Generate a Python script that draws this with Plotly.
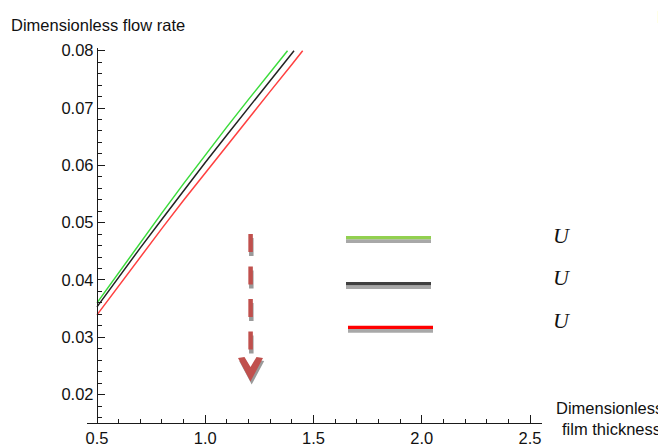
import plotly.graph_objects as go

# ---- data ----
x_green = [0.5, 0.6, 0.7, 0.8, 0.9, 1.0, 1.1, 1.2, 1.3, 1.38]
y_green = [0.0360, 0.0413, 0.0466, 0.0517, 0.0568, 0.0618, 0.0667, 0.0715, 0.0763, 0.0800]
x_black = [0.5, 0.6, 0.7, 0.8, 0.9, 1.0, 1.1, 1.2, 1.3, 1.41]
y_black = [0.0353, 0.0405, 0.0456, 0.0506, 0.0556, 0.0605, 0.0653, 0.0700, 0.0747, 0.0800]
x_red = [0.5, 0.6, 0.7, 0.8, 0.9, 1.0, 1.1, 1.2, 1.3, 1.4, 1.45]
y_red = [0.0339, 0.0390, 0.0440, 0.0490, 0.0539, 0.0587, 0.0635, 0.0682, 0.0729, 0.0776, 0.0800]

x_ticks = [0.5, 1.0, 1.5, 2.0, 2.5]
y_ticks = [0.02, 0.03, 0.04, 0.05, 0.06, 0.07, 0.08]
x_tick_labels = ["0.5", "1.0", "1.5", "2.0", "2.5"]
y_tick_labels = ["0.02", "0.03", "0.04", "0.05", "0.06", "0.07", "0.08"]

y_title = "Dimensionless flow rate"
x_title_1 = "Dimensionless"
x_title_2 = "film thickness"
legend_labels = ["U", "U", "U"]

# ---- layout geometry ----
W, H = 658, 446
L, R, T, B = 87, 116, 48, 23
PW, PH = W - L - R, H - T - B
XMIN, XMAX = 0.4538, 2.5554
YMIN, YMAX = 0.01504, 0.08047

def px(x):
    return (x - L) / PW

def py(y):
    return (H - B - y) / PH

SANS = "Liberation Sans, Arial, sans-serif"
FS = 16.5
TXT = "#111111"

fig = go.Figure()
fig.add_trace(go.Scatter(x=x_green, y=y_green, mode="lines",
                         line=dict(color="#3cdc3c", width=1.5), showlegend=False))
fig.add_trace(go.Scatter(x=x_black, y=y_black, mode="lines",
                         line=dict(color="#222222", width=1.5), showlegend=False))
fig.add_trace(go.Scatter(x=x_red, y=y_red, mode="lines",
                         line=dict(color="#ff4040", width=1.5), showlegend=False))

shapes = []
# legend-like bars with grey shadow
bars = [
    (346, 431, 236, "#92d050"),
    (346, 431, 282, "#404040"),
    (348, 433, 325.7, "#ff0000"),
]
for x0, x1, y0, col in bars:
    shapes.append(dict(type="rect", xref="paper", yref="paper",
                       x0=px(x0), x1=px(x1), y0=py(y0 + 3.2), y1=py(y0 + 7),
                       fillcolor="#a8a8a8", line=dict(width=0), layer="above"))
    shapes.append(dict(type="rect", xref="paper", yref="paper",
                       x0=px(x0), x1=px(x1), y0=py(y0), y1=py(y0 + 3.2),
                       fillcolor=col, line=dict(width=0), layer="above"))

# dashed arrow with shadow
shapes.append(dict(type="line", xref="paper", yref="paper",
                   x0=px(251.3), x1=px(251.3), y0=py(238), y1=py(354),
                   line=dict(color="#9a9a9a", width=4.5, dash="18px,14.5px"), layer="above"))
shapes.append(dict(type="line", xref="paper", yref="paper",
                   x0=px(250.6), x1=px(250.6), y0=py(234), y1=py(350),
                   line=dict(color="#c0504d", width=4.5, dash="18px,14.5px"), layer="above"))

def poly(pts):
    s = ""
    for i, (a, b) in enumerate(pts):
        s += ("M" if i == 0 else "L") + f"{px(a):.5f},{py(b):.5f} "
    return s + "Z"

head = [(238, 358), (244.5, 357), (250.5, 367), (256.5, 357), (263, 358), (250.5, 381.5)]
shadow = [(a + 1.2, b + 3) for a, b in head]
shapes.append(dict(type="path", xref="paper", yref="paper", path=poly(shadow),
                   fillcolor="#9a9a9a", line=dict(width=0), layer="above"))
shapes.append(dict(type="path", xref="paper", yref="paper", path=poly(head),
                   fillcolor="#c0504d", line=dict(width=0), layer="above"))

annotations = [
    dict(text=y_title, x=px(9), y=py(24.5), xanchor="left", yanchor="middle",
         font=dict(family=SANS, size=FS, color=TXT)),
    dict(text=x_title_1, x=px(553.5), y=py(407.5), xanchor="left", yanchor="middle",
         font=dict(family=SANS, size=FS, color=TXT)),
    dict(text=x_title_2, x=px(559.5), y=py(429), xanchor="left", yanchor="middle",
         font=dict(family=SANS, size=FS, color=TXT)),
    dict(text="D", x=px(654.5), y=py(17), xanchor="left", yanchor="middle",
         font=dict(family=SANS, size=FS, color=TXT)),
]
for lab, yc in zip(legend_labels, [235.5, 277.5, 320.5]):
    annotations.append(dict(text=f"<i>{lab}</i>", x=px(562), y=py(yc),
                            xanchor="center", yanchor="middle",
                            font=dict(family="Liberation Serif, DejaVu Serif, serif",
                                      size=22, color=TXT)))
for a in annotations:
    a.update(xref="paper", yref="paper", showarrow=False)

fig.update_layout(
    width=W, height=H, autosize=False,
    margin=dict(l=L, r=R, t=T, b=B, pad=0, autoexpand=False),
    plot_bgcolor="white", paper_bgcolor="white",
    shapes=shapes, annotations=annotations,
    xaxis=dict(range=[XMIN, XMAX], showgrid=False, zeroline=False, automargin=False,
               showline=True, linecolor="#1a1a1a", linewidth=1.4,
               ticks="inside", ticklen=8, tickwidth=1.2, tickcolor="#1a1a1a",
               tickvals=x_ticks, ticktext=x_tick_labels,
               minor=dict(ticks="inside", ticklen=4, tickwidth=1, tickcolor="#1a1a1a",
                          dtick=0.1, tick0=0.5),
               tickfont=dict(family=SANS, size=FS, color=TXT),
               anchor="y"),
    yaxis=dict(range=[YMIN, YMAX], showgrid=False, zeroline=False, automargin=False,
               showline=True, linecolor="#1a1a1a", linewidth=1.4,
               anchor="free", position=(0.5 - XMIN) / (XMAX - XMIN),
               ticks="inside", ticklen=7, tickwidth=1.2, tickcolor="#1a1a1a",
               tickvals=y_ticks, ticktext=y_tick_labels,
               minor=dict(ticks="inside", ticklen=4, tickwidth=1, tickcolor="#1a1a1a",
                          dtick=0.002, tick0=0),
               tickfont=dict(family=SANS, size=FS, color=TXT)),
)

fig.write_html("out.html")
